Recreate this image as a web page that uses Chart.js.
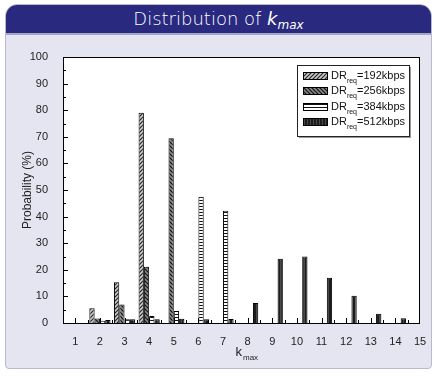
<!DOCTYPE html>
<html><head><meta charset="utf-8">
<script src="https://cdn.jsdelivr.net/npm/chart.js@4/dist/chart.umd.min.js"></script>
<style>
html,body{margin:0;padding:0;width:433px;height:376px;background:#fff;overflow:hidden}
#panel{position:absolute;left:5px;top:4px;width:425px;height:363px;background:#e5e5f1;border:1px solid #b9b9c9;border-radius:12px 12px 4px 4px;overflow:hidden}
#hdr{position:absolute;left:0;top:0;right:0;height:28px;background:#28297f;color:#fff;font-family:'DejaVu Sans',sans-serif;font-weight:200;font-size:18px;text-align:center;line-height:28px;border-bottom:2px solid #a4a4c8}
#hdr sub{font-size:12px;vertical-align:-4px;line-height:0}
#wrap{position:absolute;left:0;top:0;width:433px;height:376px}
</style></head>
<body>
<div id="panel"><div id="hdr">Distribution of <i>k</i><sub><i>max</i></sub></div></div>
<div id="wrap"><canvas id="c" width="433" height="376"></canvas></div>
<script>
const kValues = [1,2,3,4,5,6,7,8,9,10,11,12,13,14,15];
const xTickLabels = ['1','2','3','4','5','6','7','8','9','10','11','12','13','14','15'];
const yTickValues = [0,10,20,30,40,50,60,70,80,90,100];
const seriesNames = ['192kbps','256kbps','384kbps','512kbps'];
const dr192 = [null,5.5,15.3,79.0,null,null,null,null,null,null,null,null,null,null,null];
const dr256 = [null,1.7,7.0,21.1,69.5,null,null,null,null,null,null,null,null,null,null];
const dr384 = [null,0.8,1.4,2.6,4.5,47.5,42.2,null,null,null,null,null,null,null,null];
const dr512 = [null,1.1,1.4,1.4,1.6,1.4,1.5,7.5,24.2,25.0,17.0,10.2,3.5,1.8,null];
const seriesValues = [dr192, dr256, dr384, dr512];

function makePattern(kind){
  const c = document.createElement('canvas');
  const g = c.getContext('2d');
  if(kind===0){ c.width=4;c.height=4; g.fillStyle='#c8c8c8';g.fillRect(0,0,4,4);
    g.strokeStyle='#222';g.lineWidth=1.1;g.beginPath();g.moveTo(-1,5);g.lineTo(5,-1);g.moveTo(-1,1);g.lineTo(1,-1);g.moveTo(3,5);g.lineTo(5,3);g.stroke(); }
  else if(kind===1){ c.width=4;c.height=4; g.fillStyle='#8a8a8a';g.fillRect(0,0,4,4);
    g.strokeStyle='#111';g.lineWidth=1.2;g.beginPath();g.moveTo(-1,-1);g.lineTo(5,5);g.moveTo(3,-1);g.lineTo(5,1);g.moveTo(-1,3);g.lineTo(1,5);g.stroke(); }
  else if(kind===2){ c.width=4;c.height=3; g.fillStyle='#fff';g.fillRect(0,0,4,3);
    g.fillStyle='#111';g.fillRect(0,2,4,1); }
  else { c.width=3;c.height=4; g.fillStyle='#1c1c1c';g.fillRect(0,0,3,4);
    g.fillStyle='#4a4a4a';g.fillRect(1,0,1,4); }
  return document.getElementById('c').getContext('2d').createPattern(c,'repeat');
}
const patterns = [0,1,2,3].map(makePattern);

const frame = {
  id:'frame',
  beforeDraw(chart){
    const g = chart.ctx, a = chart.chartArea;
    g.save(); g.fillStyle='#ffffff'; g.fillRect(a.left,a.top,a.right-a.left,a.bottom-a.top); g.restore();
  },
  afterDatasetsDraw(chart){
    const g = chart.ctx, a = chart.chartArea, xs = chart.scales.x, ys = chart.scales.y;
    g.save();
    g.strokeStyle='#000'; g.lineWidth=1;
    g.strokeRect(Math.round(a.left)+0.5, Math.round(a.top)+0.5, Math.round(a.right-a.left)-1, Math.round(a.bottom-a.top));
    g.beginPath();
    for(let v=1; v<15; v+=0.5){
      const px = Math.round(xs.getPixelForValue(v))+0.5;
      const len = Number.isInteger(v)?5:3;
      g.moveTo(px, a.bottom); g.lineTo(px, a.bottom-len);
    }
    for(let v=5; v<100; v+=5){
      const py = Math.round(ys.getPixelForValue(v))+0.5;
      const len = (v%10===0)?5:3;
      g.moveTo(a.left, py); g.lineTo(a.left+len, py);
    }
    g.stroke();
    g.restore();
  },
  afterDraw(chart){
    const g = chart.ctx, a = chart.chartArea;
    g.save();
    g.fillStyle='#222';
    g.font='12px "Liberation Sans", Arial, sans-serif';
    g.textAlign='center'; g.textBaseline='middle';
    g.translate(28,(a.top+a.bottom)/2); g.rotate(-Math.PI/2);
    g.fillText('Probability (%)',0,0);
    g.setTransform(1,0,0,1,0,0);
    const cx = (a.left+a.right)/2;
    g.font='13px "Liberation Sans", Arial, sans-serif';
    g.textAlign='left'; g.textBaseline='alphabetic';
    g.fillText('k', cx-6, 356);
    const kw = g.measureText('k').width;
    g.font='8px "Liberation Sans", Arial, sans-serif';
    g.fillText('max', cx-6+kw+1, 360);
    const bx=297, by=65, bw=112, bh=71;
    g.fillStyle='#9a9a9a'; g.fillRect(bx+2,by+2,bw,bh);
    g.fillStyle='#fff'; g.fillRect(bx,by,bw,bh);
    g.strokeStyle='#222'; g.lineWidth=1; g.strokeRect(bx+0.5,by+0.5,bw,bh);
    const rows=[76,91,107,122];
    seriesNames.forEach((n,i)=>{
      const y=rows[i];
      g.fillStyle=patterns[i]; g.fillRect(303,y-4,25,8);
      g.strokeStyle='#000'; g.strokeRect(303.5,y-3.5,24,7);
      g.fillStyle='#111';
      g.font='11px "Liberation Sans", Arial, sans-serif';
      g.textBaseline='middle'; g.textAlign='left';
      g.fillText('DR',331,y);
      let x = 331 + g.measureText('DR').width;
      g.font='7px "Liberation Sans", Arial, sans-serif';
      g.fillText('req', x, y+5);
      x += g.measureText('req').width;
      g.font='11px "Liberation Sans", Arial, sans-serif';
      g.fillText('='+n, x, y);
    });
    g.restore();
  }
};

new Chart(document.getElementById('c'), {
  type:'bar',
  data:{
    datasets: seriesNames.map((n,i)=>({
      label:'DR_req='+n,
      data: kValues.map((k,j)=>({x:k, y:seriesValues[i][j]})),
      backgroundColor: patterns[i],
      borderColor:'#000',
      borderWidth:1,
      categoryPercentage:0.86,
      barPercentage:1
    }))
  },
  options:{
    responsive:false, animation:false, events:[],
    layout:{padding:{top:57,right:13,left:0,bottom:0}},
    plugins:{legend:{display:false}, tooltip:{enabled:false}},
    scales:{
      x:{type:'linear', min:0.5, max:15, offset:false,
        grid:{display:false}, border:{display:false},
        afterBuildTicks(s){ s.ticks = kValues.map(v=>({value:v})); },
        ticks:{autoSkip:false, maxRotation:0, padding:4, color:'#222',
          font:{family:'"Liberation Sans", Arial, sans-serif', size:11},
          callback:(v)=> xTickLabels[kValues.indexOf(v)] ?? ''},
        afterFit(s){ s.height = 53; }
      },
      y:{min:0, max:100,
        grid:{display:false}, border:{display:false},
        afterBuildTicks(s){ s.ticks = yTickValues.map(v=>({value:v})); },
        ticks:{padding:7, color:'#222',
          font:{family:'"Liberation Sans", Arial, sans-serif', size:11}},
        afterFit(s){ s.width = 63; }
      }
    }
  },
  plugins:[frame]
});
</script>
</body></html>
